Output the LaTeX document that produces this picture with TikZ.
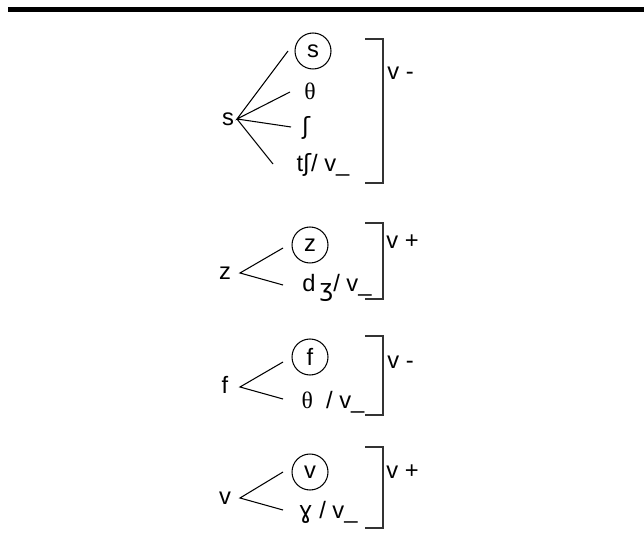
\documentclass[tikz,border=0pt]{standalone}
\usepackage{fontspec}
\setmainfont{Liberation Sans}
\newfontfamily\ipafont{DejaVu Sans}
\newfontfamily\grkfont{Liberation Serif}
\usetikzlibrary{shapes}

\begin{document}
\begin{tikzpicture}[x=0.02cm, y=-0.02cm,
		seg/.style={font=\fontsize{13.5}{16}\selectfont, inner sep=0pt},
		circ/.style={seg, circle, draw, line width=0.6pt, minimum size=0.72cm},
		branch/.style={line width=0.6pt},
		brack/.style={line width=0.9pt, color=color2}]
				\definecolor{color1}{gray}{0.}
				\definecolor{color2}{gray}{0.2}
				\useasboundingbox (0,0) rectangle (644,546);
				\fill[color1] (8,7) rectangle (644,12.5);
				%% Group s ------
				\node[seg] (s) at (228,119) {s};
				\coordinate (sv) at (237,119);
				\coordinate (sa) at (288,51);
				\coordinate (sb) at (290,92);
				\coordinate (sc) at (291,127);
				\coordinate (sd) at (273,164);
				\node[circ] (s1) at (313,51) {s};
				\node[seg] (s2) at (310,91) {\grkfont θ};
				\node[seg] (s3) at (306,128) {\ipafont ʃ};
				\node[seg] (s4) at (323,165) {t{\ipafont ʃ}/ v\_};
				\coordinate (sbt) at (383,39);
				\coordinate (sbb) at (383,183);
				\node[seg, anchor=west] (sf) at (387,73) {v -};
				\draw[branch] (sa) -- (sv) -- (sb) (sv) -- (sc) (sv) -- (sd);
				\draw[brack] ([xshift=-10]sbt) -- (sbt) -- (sbb) -- ([xshift=-10]sbb);
				%% Group z ------
				\node[seg] (z) at (225,273) {z};
				\coordinate (zv) at (240,273);
				\coordinate (za) at (283,248);
				\coordinate (zb) at (283,285);
				\node[circ] (z1) at (310,245) {z};
				\node[seg] (z2) at (337,288) {d\,\raisebox{-3pt}{\ipafont ʒ}/ v\_};
				\coordinate (zbt) at (383,223);
				\coordinate (zbb) at (383,299);
				\node[seg, anchor=west] (zf) at (386,242) {v +};
				\draw[branch] (za) -- (zv) -- (zb);
				\draw[brack] ([xshift=-10]zbt) -- (zbt) -- (zbb) -- ([xshift=-10]zbb);
				%% Group f ------
				\node[seg] (f) at (225,385) {f};
				\coordinate (fv) at (240,387);
				\coordinate (fa) at (283,362);
				\coordinate (fb) at (283,399);
				\node[circ] (f1) at (310,357) {f};
				\node[seg] (f2) at (333,402) {{\grkfont θ}\ \ / v\_};
				\coordinate (fbt) at (383,336);
				\coordinate (fbb) at (383,415);
				\node[seg, anchor=west] (ff) at (387,362) {v -};
				\draw[branch] (fa) -- (fv) -- (fb);
				\draw[brack] ([xshift=-10]fbt) -- (fbt) -- (fbb) -- ([xshift=-10]fbb);
				%% Group v ------
				\node[seg] (v) at (225,498) {v};
				\coordinate (vv) at (240,498);
				\coordinate (va) at (283,472);
				\coordinate (vb) at (283,510);
				\node[circ] (v1) at (310,472) {v};
				\node[seg] (v2) at (328,512) {{\ipafont ɣ} / v\_};
				\coordinate (vbt) at (383,447);
				\coordinate (vbb) at (383,528);
				\node[seg, anchor=west] (vf) at (386,472) {v +};
				\draw[branch] (va) -- (vv) -- (vb);
				\draw[brack] ([xshift=-10]vbt) -- (vbt) -- (vbb) -- ([xshift=-10]vbb);
			\end{tikzpicture}
\end{document}
